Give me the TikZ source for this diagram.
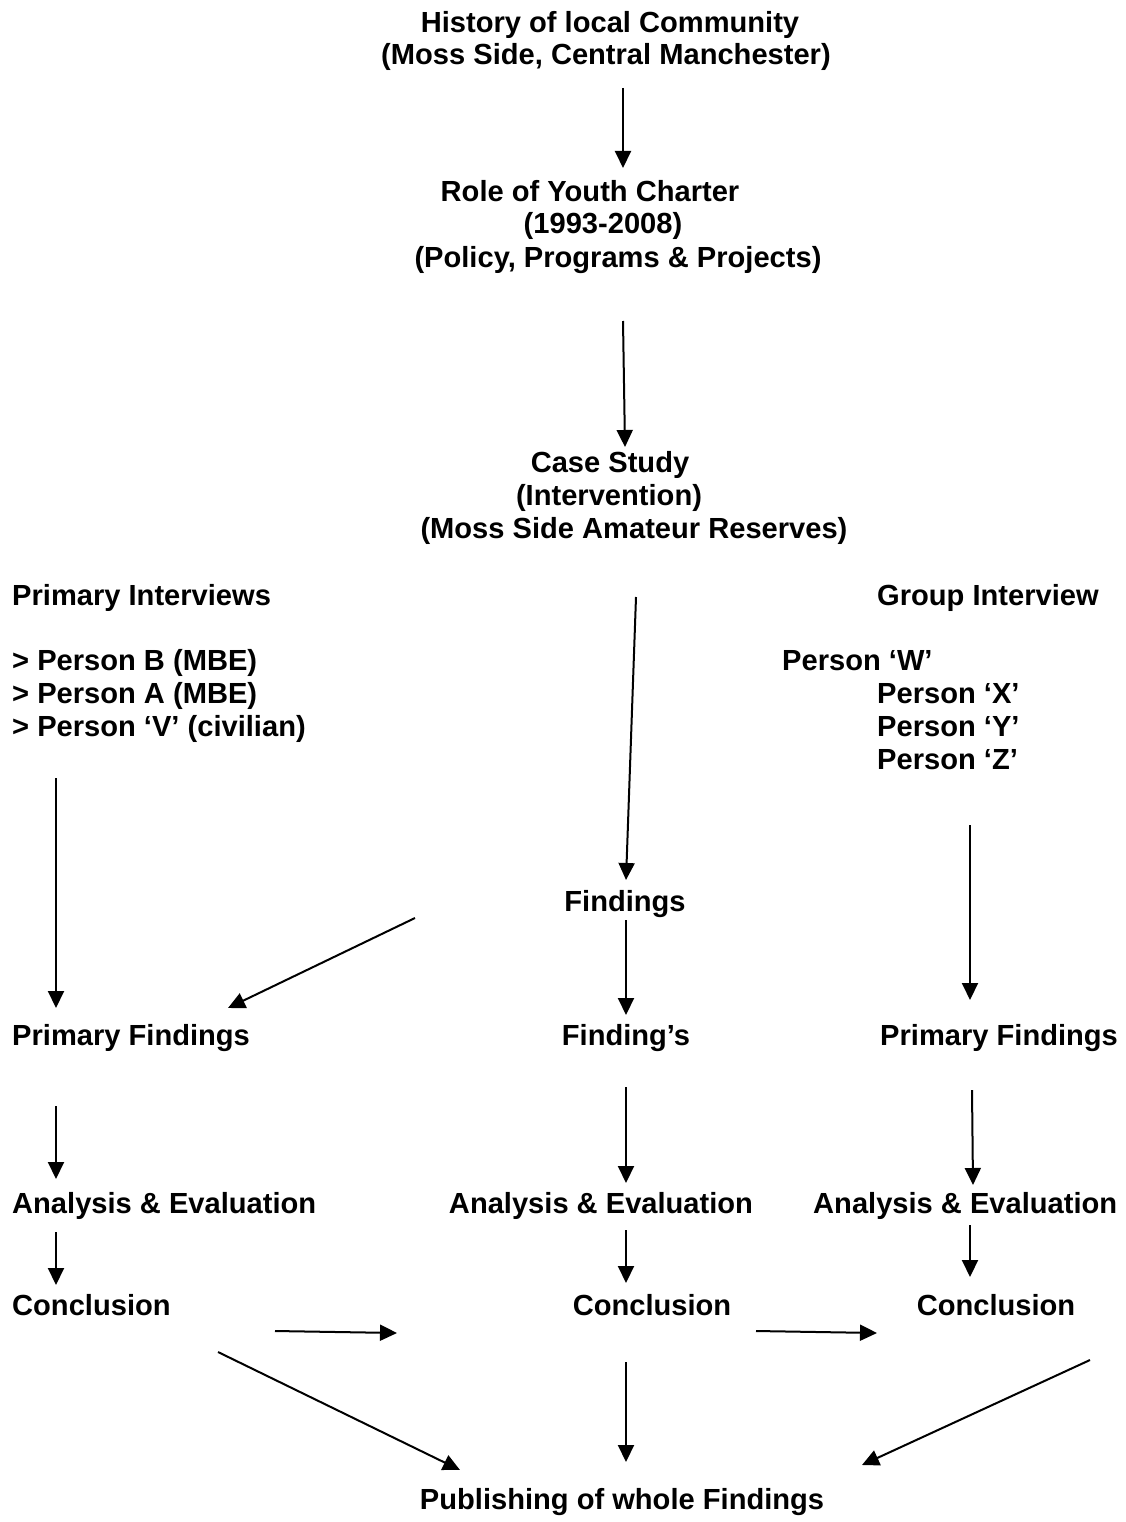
\documentclass[tikz,border=0pt]{standalone}
\usepackage{fontspec}
\setmainfont{Liberation Sans}
\usetikzlibrary{arrows.meta}

\begin{document}
\begin{tikzpicture}[x=1pt,y=-1pt,
    txt/.style={inner sep=0pt,font=\fontsize{29.1}{33}\selectfont\bfseries},
    arr/.style={line width=2pt,-{Triangle[length=17pt,width=16pt]}}]
      \useasboundingbox (0,0) rectangle (1126,1522);

      \node [txt,anchor=base] (hist1) at (610,33) {History of local Community};
      \node [txt,anchor=base] (hist2) at (606,65) {(Moss Side, Central Manchester)};

      \node [txt,anchor=base] (role1) at (590,202) {Role of Youth Charter};
      \node [txt,anchor=base] (role2) at (603,234) {(1993-2008)};
      \node [txt,anchor=base] (role3) at (618,267) {(Policy, Programs \& Projects)};

      \node [txt,anchor=base] (case1) at (610,472) {Case Study};
      \node [txt,anchor=base] (case2) at (609,505) {(Intervention)};
      \node [txt,anchor=base] (case3) at (634,538) {(Moss Side Amateur Reserves)};

      \node [txt,anchor=base west] (primint) at (12,605) {Primary Interviews};
      \node [txt,anchor=base west] (persB) at (12,670) {> Person B (MBE)};
      \node [txt,anchor=base west] (persA) at (12,703) {> Person A (MBE)};
      \node [txt,anchor=base west] (persV) at (12,736) {> Person ‘V’ (civilian)};

      \node [txt,anchor=base west] (grpint) at (877,605) {Group Interview};
      \node [txt,anchor=base west] (persW) at (782,670) {Person ‘W’};
      \node [txt,anchor=base west] (persX) at (877,703) {Person ‘X’};
      \node [txt,anchor=base west] (persY) at (877,736) {Person ‘Y’};
      \node [txt,anchor=base west] (persZ) at (877,769) {Person ‘Z’};

      \node [txt,anchor=base] (find) at (625,911) {Findings};

      \node [txt,anchor=base west] (primfl) at (12,1045) {Primary Findings};
      \node [txt,anchor=base] (findm) at (626,1045) {Finding’s};
      \node [txt,anchor=base west] (primfr) at (880,1045) {Primary Findings};

      \node [txt,anchor=base west] (analyl) at (12,1213) {Analysis \& Evaluation};
      \node [txt,anchor=base] (analym) at (601,1213) {Analysis \& Evaluation};
      \node [txt,anchor=base west] (analyr) at (813,1213) {Analysis \& Evaluation};

      \node [txt,anchor=base west] (concl) at (12,1315) {Conclusion};
      \node [txt,anchor=base] (concm) at (652,1315) {Conclusion};
      \node [txt,anchor=base] (concr) at (996,1315) {Conclusion};

      \node [txt,anchor=base] (publ) at (622,1509) {Publishing of whole Findings};

      \coordinate (histS) at (623,88);   \coordinate (roleE) at (623,168);
      \coordinate (roleS) at (623,321);  \coordinate (caseE) at (625,447);
      \coordinate (caseS) at (636,597);  \coordinate (findE) at (626,880);
      \coordinate (primS) at (56,778);   \coordinate (primE) at (56,1008);
      \coordinate (grpS) at (970,825);   \coordinate (grpE) at (970,1000);
      \coordinate (crossS) at (415,918); \coordinate (crossE) at (228,1008);
      \coordinate (findS) at (626,920);  \coordinate (findmE) at (626,1015);

      \coordinate (pflS) at (56,1106);   \coordinate (pflE) at (56,1179);
      \coordinate (fmS) at (626,1087);   \coordinate (fmE) at (626,1183);
      \coordinate (pfrS) at (972,1090);  \coordinate (pfrE) at (973,1185);

      \coordinate (anlS) at (56,1232);   \coordinate (anlE) at (56,1285);
      \coordinate (anmS) at (626,1230);  \coordinate (anmE) at (626,1283);
      \coordinate (anrS) at (970,1225);  \coordinate (anrE) at (970,1277);

      \coordinate (clmS) at (275,1331);  \coordinate (clmE) at (397,1333);
      \coordinate (cmrS) at (756,1331);  \coordinate (cmrE) at (877,1333);

      \coordinate (pubLS) at (218,1352); \coordinate (pubLE) at (460,1470);
      \coordinate (pubMS) at (626,1362); \coordinate (pubME) at (626,1462);
      \coordinate (pubRS) at (1090,1360); \coordinate (pubRE) at (862,1465);

      \draw [arr] (histS) -- (roleE);
      \draw [arr] (roleS) -- (caseE);
      \draw [arr] (caseS) -- (findE);
      \draw [arr] (primS) -- (primE);
      \draw [arr] (grpS) -- (grpE);
      \draw [arr] (crossS) -- (crossE);
      \draw [arr] (findS) -- (findmE);

      \draw [arr] (pflS) -- (pflE);
      \draw [arr] (fmS) -- (fmE);
      \draw [arr] (pfrS) -- (pfrE);

      \draw [arr] (anlS) -- (anlE);
      \draw [arr] (anmS) -- (anmE);
      \draw [arr] (anrS) -- (anrE);

      \draw [arr] (clmS) -- (clmE);
      \draw [arr] (cmrS) -- (cmrE);

      \draw [arr] (pubLS) -- (pubLE);
      \draw [arr] (pubMS) -- (pubME);
      \draw [arr] (pubRS) -- (pubRE);
    \end{tikzpicture}
\end{document}
